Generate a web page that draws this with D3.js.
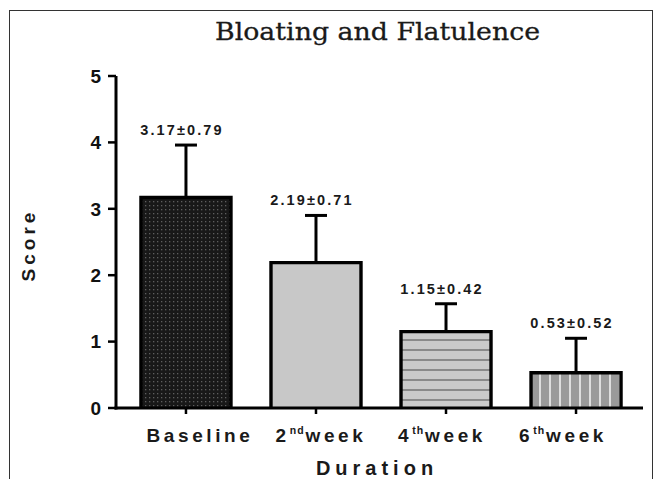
<!DOCTYPE html>
<html><head><meta charset="utf-8">
<script src="https://cdn.jsdelivr.net/npm/d3@7"></script>
<style>
html,body{margin:0;padding:0;background:#fff;}
svg{display:block;}
</style></head>
<body>
<svg id="c" width="656" height="479"></svg>
<script>
const categories = ["Baseline", "2nd week", "4th week", "6th week"];
const labelMain = ["Baseline", "2", "4", "6"];
const labelSup = ["", "nd", "th", "th"];
const labelTail = ["", "week", "week", "week"];
const means = [3.17, 2.19, 1.15, 0.53];
const sds = [0.79, 0.71, 0.42, 0.52];
const yTicks = [0, 1, 2, 3, 4, 5];
const patterns = ["pDots", "pSolid", "pHoriz", "pVert"];

const svg = d3.select("#c");

// frame
svg.append("rect").attr("x", 9.5).attr("y", 10.5).attr("width", 643).attr("height", 480)
  .attr("fill", "none").attr("stroke", "#333").attr("stroke-width", 1);

// patterns
const defs = svg.append("defs");
const p1 = defs.append("pattern").attr("id", "pDots").attr("patternUnits", "userSpaceOnUse")
  .attr("width", 4).attr("height", 4);
p1.append("rect").attr("width", 4).attr("height", 4).attr("fill", "#181818");
p1.append("rect").attr("x", 1).attr("y", 1).attr("width", 1.3).attr("height", 1.3).attr("fill", "#5e5e5e");
const p2 = defs.append("pattern").attr("id", "pSolid").attr("patternUnits", "userSpaceOnUse")
  .attr("width", 4).attr("height", 4);
p2.append("rect").attr("width", 4).attr("height", 4).attr("fill", "#c8c8c8");
const p3 = defs.append("pattern").attr("id", "pHoriz").attr("patternUnits", "userSpaceOnUse")
  .attr("width", 10).attr("height", 10).attr("y", 2);
p3.append("rect").attr("width", 10).attr("height", 10).attr("fill", "#cacaca");
p3.append("rect").attr("y", 7).attr("width", 10).attr("height", 2).attr("fill", "#8a8a8a");
const p4 = defs.append("pattern").attr("id", "pVert").attr("patternUnits", "userSpaceOnUse")
  .attr("width", 10).attr("height", 10).attr("x", 2);
p4.append("rect").attr("width", 10).attr("height", 10).attr("fill", "#9a9a9a");
p4.append("rect").attr("x", 7).attr("width", 2).attr("height", 10).attr("fill", "#dedede");

const x = d3.scaleBand().domain(categories).range([116, 646]).paddingInner(0.3077).paddingOuter(0.192);
const y = d3.scaleLinear().domain([0, 5]).range([408, 76]);
const labelX = d3.scalePoint().domain(categories).range([200, 563]);
const FONT = "Liberation Sans, Arial, sans-serif";

// bars
const bars = svg.append("g");
categories.forEach((c, i) => {
  const x0 = x(c), bw = x.bandwidth(), yt = y(means[i]), y0 = y(0);
  bars.append("rect").attr("x", x0).attr("y", yt).attr("width", bw).attr("height", y0 - yt)
    .attr("fill", `url(#${patterns[i]})`);
  bars.append("path")
    .attr("d", `M${x0},${y0}V${yt}H${x0 + bw}V${y0}`)
    .attr("fill", "none").attr("stroke", "#000").attr("stroke-width", 3.4);
  // error bar
  const cx = x0 + bw / 2, ye = y(means[i] + sds[i]);
  bars.append("line").attr("x1", cx).attr("x2", cx).attr("y1", yt).attr("y2", ye)
    .attr("stroke", "#000").attr("stroke-width", 3);
  bars.append("line").attr("x1", cx - 11).attr("x2", cx + 11).attr("y1", ye).attr("y2", ye)
    .attr("stroke", "#000").attr("stroke-width", 3);
  // value label
  bars.append("text").attr("x", cx - 4).attr("y", ye - 10)
    .attr("text-anchor", "middle")
    .attr("font-family", FONT).attr("font-weight", "bold")
    .attr("font-size", 14.5).attr("letter-spacing", 2.1).attr("fill", "#1a1a1a")
    .text(`${means[i].toFixed(2)}±${sds[i].toFixed(2)}`);
});

// y axis
const ya = svg.append("g");
ya.append("line").attr("x1", 116).attr("x2", 116).attr("y1", y(5)).attr("y2", y(0) + 1.5)
  .attr("stroke", "#000").attr("stroke-width", 3);
yTicks.forEach(t => {
  ya.append("line").attr("x1", 108).attr("x2", 116).attr("y1", y(t)).attr("y2", y(t))
    .attr("stroke", "#000").attr("stroke-width", 2.5);
  ya.append("text").attr("x", 101).attr("y", y(t)).attr("dy", "0.36em")
    .attr("text-anchor", "end")
    .attr("font-family", FONT).attr("font-weight", "bold")
    .attr("font-size", 19).attr("fill", "#111").text(t);
});

// x axis
const xa = svg.append("g");
xa.append("line").attr("x1", 114.5).attr("x2", 643).attr("y1", y(0)).attr("y2", y(0))
  .attr("stroke", "#000").attr("stroke-width", 3);
categories.forEach((c, i) => {
  const cx = x(c) + x.bandwidth() / 2;
  xa.append("line").attr("x1", cx).attr("x2", cx).attr("y1", y(0)).attr("y2", y(0) + 6)
    .attr("stroke", "#000").attr("stroke-width", 2.5);
  const t = xa.append("text").attr("x", labelX(c)).attr("y", 442)
    .attr("text-anchor", "middle")
    .attr("font-family", FONT).attr("font-weight", "bold")
    .attr("font-size", 19).attr("letter-spacing", 3.6).attr("fill", "#1a1a1a");
  t.append("tspan").text(labelMain[i]);
  if (labelSup[i]) {
    t.append("tspan").attr("font-size", 10.5).attr("dy", -8).attr("letter-spacing", 1).text(labelSup[i]);
    t.append("tspan").attr("dy", 8).attr("dx", 1).text(labelTail[i]);
  }
});

// axis titles
svg.append("text").attr("x", 377).attr("y", 475).attr("text-anchor", "middle")
  .attr("font-family", FONT).attr("font-weight", "bold")
  .attr("font-size", 20).attr("letter-spacing", 5).attr("fill", "#1a1a1a").text("Duration");
svg.append("text").attr("transform", "translate(35,245) rotate(-90)").attr("text-anchor", "middle")
  .attr("font-family", FONT).attr("font-weight", "bold")
  .attr("font-size", 19).attr("letter-spacing", 4).attr("fill", "#1a1a1a").text("Score");

// title
svg.append("text").attr("x", 215).attr("y", 40)
  .attr("font-family", "DejaVu Serif, serif")
  .attr("font-size", 25).attr("fill", "#1a1a1a").attr("stroke", "#1a1a1a").attr("stroke-width", 0.3)
  .attr("textLength", 325).attr("lengthAdjust", "spacingAndGlyphs")
  .text("Bloating and Flatulence");
</script>
</body></html>
